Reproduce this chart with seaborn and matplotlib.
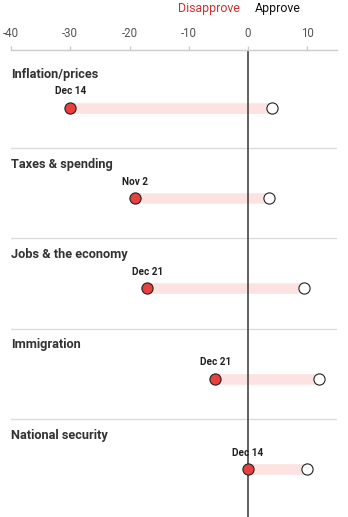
import numpy as np
import pandas as pd
import matplotlib
matplotlib.use("Agg")
import matplotlib.pyplot as plt
import matplotlib.transforms as mtransforms
import seaborn as sns

categories = ["Inflation/prices", "Taxes & spending", "Jobs & the economy",
              "Immigration", "National security"]
disapprove = [-30, -19, -17, -5.5, 0]
approve = [4, 3.5, 9.5, 12, 10]
dates = ["Dec 14", "Nov 2", "Dec 21", "Dec 21", "Dec 14"]
xticks = [-40, -30, -20, -10, 0, 10]

sns.set_theme(style="white")
plt.rcParams['font.family'] = ['Roboto', 'DejaVu Sans']
plt.rcParams['axes.unicode_minus'] = False

df = pd.DataFrame({"category": categories, "disapprove": disapprove,
                   "approve": approve, "date": dates})
df["row"] = np.arange(len(df))

W, H = 348, 517
fig = plt.figure(figsize=(W / 100, H / 100), dpi=100)
ax = fig.add_axes([11 / W, 0, 326 / W, 467 / H])
ax.set_xlim(-40, 15)
ax.set_ylim(4.533, -0.639)

# separators
for i in range(1, len(df)):
    ax.axhline(i - 0.553, color="#dcdcdc", lw=1, zorder=0)

# range bars
ax.barh(df["row"], df["approve"] - df["disapprove"], left=df["disapprove"],
        height=12 / 90.3, color="#fde2e2", zorder=1)

ax.axvline(0, color="#444444", lw=1.2, zorder=2)

sns.scatterplot(data=df, x="disapprove", y="row", color="#e8403f",
                edgecolor="#222222", linewidth=0.8, s=65, zorder=3, ax=ax)
sns.scatterplot(data=df, x="approve", y="row", color="white",
                edgecolor="#222222", linewidth=0.8, s=65, zorder=3, ax=ax)

for _, r in df.iterrows():
    ax.text(-40, r["row"] - 0.373, r["category"], ha="left", va="center",
            fontsize=9.2, fontweight="bold", color="#333333")
    ax.text(r["disapprove"], r["row"] - 0.18, r["date"], ha="center",
            va="center", fontsize=7.2, fontweight="bold", color="#222222")

ax.set_xlabel("")
ax.set_ylabel("")
ax.set_yticks([])
ax.xaxis.tick_top()
ax.set_xticks(xticks)
ax.set_xticklabels([str(t) for t in xticks])
ax.tick_params(axis="x", direction="out", length=3, width=1, color="#cccccc",
               labelsize=8.3, labelcolor="#555555", pad=4.5)
for s in ["left", "right", "bottom"]:
    ax.spines[s].set_visible(False)
ax.spines["top"].set_color("#cccccc")
ax.spines["top"].set_linewidth(1)

trans = mtransforms.blended_transform_factory(ax.transData, fig.transFigure)
ax.text(-1.35, 1 - 8.5 / H, "Disapprove", transform=trans, ha="right",
        va="center", fontsize=8.9, color="#d0302f")
ax.text(1.2, 1 - 8.5 / H, "Approve", transform=trans, ha="left",
        va="center", fontsize=8.9, color="#111111")

fig.savefig("out.png", dpi=100)
